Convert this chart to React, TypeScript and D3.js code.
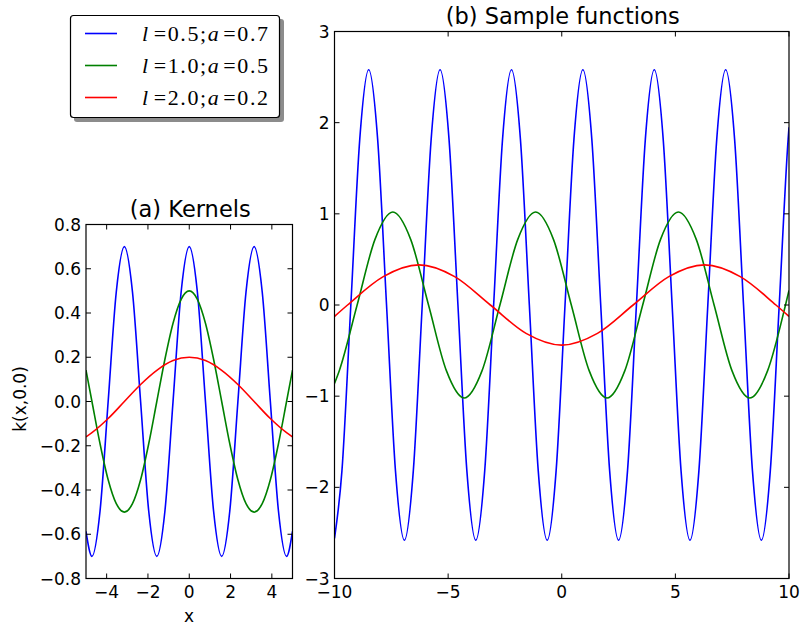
import React from "react";
import * as d3 from "d3";

// ---------- data ----------
type Pt = [number, number];

// (a) Kernels
const kernelBlue: Pt[] = [
  [-5, -0.587], [-4.712, -0.7], [-4.32, -0.495], [-3.927, 0], [-3.534, 0.495], [-3.142, 0.7],
  [-2.749, 0.495], [-2.356, 0], [-1.963, -0.495], [-1.571, -0.7], [-1.178, -0.495], [-0.785, 0],
  [-0.393, 0.495], [0, 0.7], [0.393, 0.495], [0.785, 0], [1.178, -0.495], [1.571, -0.7],
  [1.963, -0.495], [2.356, 0], [2.749, 0.495], [3.142, 0.7], [3.534, 0.495], [3.927, 0],
  [4.32, -0.495], [4.712, -0.7], [5, -0.587],
];
const kernelGreen: Pt[] = [
  [-5, 0.142], [-4.712, 0], [-4.32, -0.191], [-3.927, -0.354], [-3.534, -0.462], [-3.142, -0.5],
  [-2.749, -0.462], [-2.356, -0.354], [-1.963, -0.191], [-1.571, 0], [-1.178, 0.191], [-0.785, 0.354],
  [-0.393, 0.462], [0, 0.5], [0.393, 0.462], [0.785, 0.354], [1.178, 0.191], [1.571, 0],
  [1.963, -0.191], [2.356, -0.354], [2.749, -0.462], [3.142, -0.5], [3.534, -0.462], [3.927, -0.354],
  [4.32, -0.191], [4.712, 0], [5, 0.142],
];
const kernelRed: Pt[] = [
  [-5, -0.16], [-4.712, -0.141], [-3.927, -0.077], [-3.142, 0], [-2.356, 0.077], [-1.571, 0.141],
  [-0.785, 0.185], [0, 0.2], [0.785, 0.185], [1.571, 0.141], [2.356, 0.077], [3.142, 0],
  [3.927, -0.077], [4.712, -0.141], [5, -0.16],
];

// (b) Sample functions
const sampleBlue: Pt[] = [
  [-10, -2.56], [-9.673, -1.82], [-9.281, 0], [-8.888, 1.82], [-8.495, 2.58], [-8.102, 1.82],
  [-7.71, 0], [-7.317, -1.82], [-6.924, -2.58], [-6.532, -1.82], [-6.139, 0], [-5.746, 1.82],
  [-5.354, 2.58], [-4.961, 1.82], [-4.568, 0], [-4.175, -1.82], [-3.783, -2.58], [-3.39, -1.82],
  [-2.997, 0], [-2.605, 1.82], [-2.212, 2.58], [-1.819, 1.82], [-1.426, 0], [-1.034, -1.82],
  [-0.641, -2.58], [-0.248, -1.82], [0.144, 0], [0.537, 1.82], [0.93, 2.58], [1.323, 1.82],
  [1.715, 0], [2.108, -1.82], [2.501, -2.58], [2.894, -1.82], [3.286, 0], [3.679, 1.82],
  [4.072, 2.58], [4.464, 1.82], [4.857, 0], [5.25, -1.82], [5.643, -2.58], [6.035, -1.82],
  [6.428, 0], [6.821, 1.82], [7.213, 2.58], [7.606, 1.82], [7.999, 0], [8.392, -1.82],
  [8.784, -2.58], [9.177, -1.82], [9.57, 0], [9.962, 1.82], [10, 1.95],
];
const sampleGreen: Pt[] = [
  [-10, -0.86], [-9.789, -0.72], [-9.004, 0], [-8.218, 0.72], [-7.433, 1.02], [-6.648, 0.72],
  [-5.862, 0], [-5.077, -0.72], [-4.292, -1.02], [-3.506, -0.72], [-2.721, 0], [-1.935, 0.72],
  [-1.15, 1.02], [-0.365, 0.72], [0.421, 0], [1.206, -0.72], [1.992, -1.02], [2.777, -0.72],
  [3.562, 0], [4.348, 0.72], [5.133, 1.02], [5.919, 0.72], [6.704, 0], [7.49, -0.72],
  [8.275, -1.02], [9.06, -0.72], [9.846, 0], [10, 0.16],
];
const sampleRed: Pt[] = [
  [-10, -0.125], [-9.425, 0], [-7.854, 0.311], [-6.283, 0.44], [-4.712, 0.311], [-3.142, 0],
  [-1.571, -0.311], [0, -0.44], [1.571, -0.311], [3.142, 0], [4.712, 0.311], [6.283, 0.44],
  [7.854, 0.311], [9.425, 0], [10, -0.125],
];

const seriesColors = ["#0000ff", "#008000", "#ff0000"];
const legendL = ["0.5", "1.0", "2.0"];
const legendA = ["0.7", "0.5", "0.2"];

const aXTicks = [-4, -2, 0, 2, 4];
const aYTicks = [-0.8, -0.6, -0.4, -0.2, 0, 0.2, 0.4, 0.6, 0.8];
const bXTicks = [-10, -5, 0, 5, 10];
const bYTicks = [-3, -2, -1, 0, 1, 2, 3];

const FONT = "DejaVu Sans, sans-serif";
const minus = (s: string) => s.replace("-", "\u2212");

type PanelProps = {
  id: string;
  x: d3.ScaleLinear<number, number>;
  y: d3.ScaleLinear<number, number>;
  xTicks: number[];
  yTicks: number[];
  xFmt: (v: number) => string;
  yFmt: (v: number) => string;
  series: Pt[][];
  title: string;
};

function Panel({ id, x, y, xTicks, yTicks, xFmt, yFmt, series, title }: PanelProps) {
  const [x0, x1] = x.range();
  const [y0, y1] = y.range(); // y0 bottom, y1 top
  const line = d3
    .line<Pt>()
    .x((d) => x(d[0]))
    .y((d) => y(d[1]))
    .curve(d3.curveMonotoneX);
  const tl = 5;
  return (
    <g>
      <defs>
        <clipPath id={id}>
          <rect x={x0} y={y1} width={x1 - x0} height={y0 - y1} />
        </clipPath>
      </defs>
      <g clipPath={`url(#${id})`}>
        {series.map((s, i) => (
          <path key={i} d={line(s) || ""} fill="none" stroke={seriesColors[i]} strokeWidth={1.6} />
        ))}
      </g>
      {xTicks.map((t) => (
        <g key={"x" + t}>
          <line x1={x(t)} x2={x(t)} y1={y0} y2={y0 - tl} stroke="#000" strokeWidth={1} />
          <line x1={x(t)} x2={x(t)} y1={y1} y2={y1 + tl} stroke="#000" strokeWidth={1} />
          <text x={x(t)} y={y0 + 19.5} textAnchor="middle" fontFamily={FONT} fontSize={17}>
            {xFmt(t)}
          </text>
        </g>
      ))}
      {yTicks.map((t) => (
        <g key={"y" + t}>
          <line x1={x0} x2={x0 + tl} y1={y(t)} y2={y(t)} stroke="#000" strokeWidth={1} />
          <line x1={x1} x2={x1 - tl} y1={y(t)} y2={y(t)} stroke="#000" strokeWidth={1} />
          <text
            x={x0 - 5}
            y={y(t)}
            dy="0.36em"
            textAnchor="end"
            fontFamily={FONT}
            fontSize={17}
          >
            {yFmt(t)}
          </text>
        </g>
      ))}
      <rect x={x0} y={y1} width={x1 - x0} height={y0 - y1} fill="none" stroke="#000" strokeWidth={1.2} />
      <text x={(x0 + x1) / 2 + 1} y={y1 - 8} textAnchor="middle" fontFamily={FONT} fontSize={22.5}>
        {title}
      </text>
    </g>
  );
}

export default function App() {
  const xa = d3.scaleLinear().domain([-5, 5]).range([86, 292.5]);
  const ya = d3.scaleLinear().domain([-0.8, 0.8]).range([578.5, 224.5]);
  const xb = d3.scaleLinear().domain([-10, 10]).range([334.5, 789]);
  const yb = d3.scaleLinear().domain([-3, 3]).range([578.5, 31.5]);

  const legendY = [33.5, 65.5, 97.5];

  return (
    <svg
      width={801}
      height={628}
      style={{ position: "absolute", left: 0, top: 0, background: "#fff" }}
    >
      <rect x={0} y={0} width={801} height={628} fill="#fff" />
      <Panel
        id="clipA"
        x={xa}
        y={ya}
        xTicks={aXTicks}
        yTicks={aYTicks}
        xFmt={(v) => minus(String(v))}
        yFmt={(v) => minus(v.toFixed(1))}
        series={[kernelBlue, kernelGreen, kernelRed]}
        title="(a) Kernels"
      />
      <Panel
        id="clipB"
        x={xb}
        y={yb}
        xTicks={bXTicks}
        yTicks={bYTicks}
        xFmt={(v) => minus(String(v))}
        yFmt={(v) => minus(String(v))}
        series={[sampleBlue, sampleGreen, sampleRed]}
        title="(b) Sample functions"
      />
      <text x={189} y={622} textAnchor="middle" fontFamily={FONT} fontSize={17}>
        x
      </text>
      <text
        transform="translate(26,399) rotate(-90)"
        textAnchor="middle"
        fontFamily={FONT}
        fontSize={17}
      >
        k(x,0.0)
      </text>

      {/* legend */}
      <rect x={74} y={19} width={210} height={103} rx={3} fill="#8c8c8c" />
      <rect x={70.5} y={15.5} width={209} height={102} rx={3} fill="#fff" stroke="#000" strokeWidth={1.2} />
      {legendY.map((ly, i) => (
        <g key={i}>
          <line x1={85} x2={117} y1={ly} y2={ly} stroke={seriesColors[i]} strokeWidth={1.6} />
          <text
            x={142}
            y={ly + 7.5}
            fontFamily="Liberation Serif, DejaVu Serif, serif"
            fontSize={22}
            textLength={126}
            lengthAdjust="spacing"
          >
            <tspan fontStyle="italic">l</tspan>
            <tspan dx={4}>={legendL[i]};</tspan>
            <tspan fontStyle="italic">a</tspan>
            <tspan dx={3}>={legendA[i]}</tspan>
          </text>
        </g>
      ))}
    </svg>
  );
}
